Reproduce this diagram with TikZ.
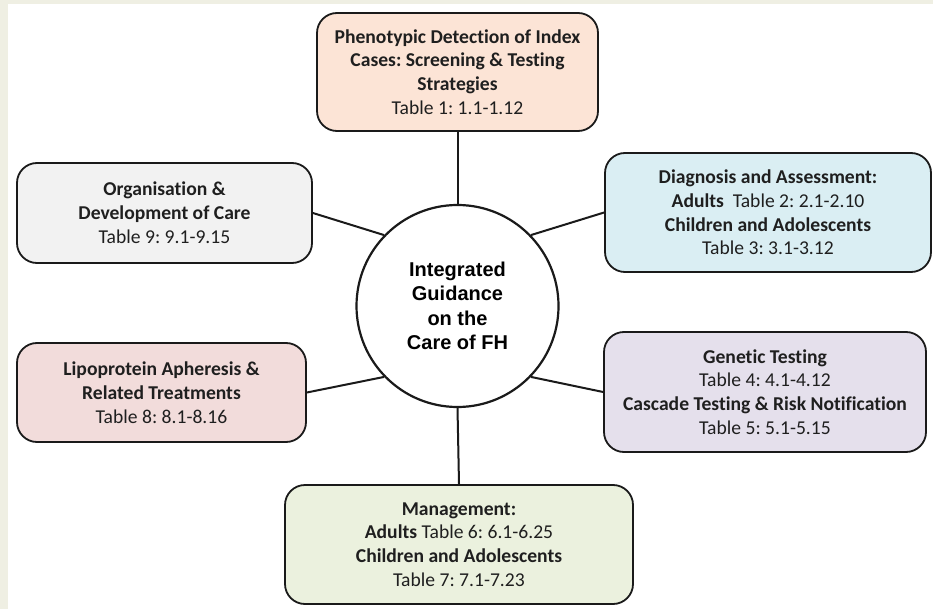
\documentclass[tikz,border=0pt]{standalone}
\usepackage{fontspec}
\setmainfont{Carlito}[Ligatures=NoCommon]
\newfontfamily\arialf{Liberation Sans}
\frenchspacing
\definecolor{bgbeige}{HTML}{EFEFE3}
\definecolor{peach}{HTML}{FCE4D6}
\definecolor{lblue}{HTML}{DAEEF3}
\definecolor{lpurple}{HTML}{E5E0EC}
\definecolor{lgreen}{HTML}{EBF1DE}
\definecolor{lgrey}{HTML}{F2F2F2}
\definecolor{lpink}{HTML}{F2DCDB}
\definecolor{txt}{HTML}{1F1F1F}
\definecolor{edge}{HTML}{1A1A1A}
\tikzset{
  topic/.style={draw=edge, line width=1.8pt, rounded corners=20pt, align=center,
    text=txt, inner sep=0pt, font=\fontsize{19.6}{23.8}\selectfont},
  hub/.style={circle, draw=edge, line width=2.2pt, fill=white, align=center,
    inner sep=0pt, minimum size=202pt, font=\arialf\bfseries\fontsize{20}{24.5}\selectfont},
  link/.style={draw=edge, line width=2pt}
}
\begin{document}
\begin{tikzpicture}[x=1pt,y=-1pt]
\useasboundingbox (0,0) rectangle (933,609);
\fill[bgbeige] (0,0) rectangle (933,609);
\fill[white] (8,4) rectangle (933,609);

\node[hub] (c) at (457.5,306) {Integrated\\Guidance\\on the\\Care of FH};

\node[topic, fill=peach, minimum width=281pt, minimum height=118pt] (pheno) at (457.5,72)
  {\textbf{Phenotypic Detection of Index}\\\textbf{Cases: Screening \& Testing}\\\textbf{Strategies}\\Table 1: 1.1-1.12};

\node[topic, fill=lblue, minimum width=326pt, minimum height=119pt] (diag) at (768,212.5)
  {\textbf{Diagnosis and Assessment:}\\\textbf{Adults}\ \ Table 2: 2.1-2.10\\\textbf{Children and Adolescents}\\Table 3: 3.1-3.12};

\node[topic, fill=lpurple, minimum width=322pt, minimum height=120pt] (gen) at (765,392)
  {\textbf{Genetic Testing}\\Table 4: 4.1-4.12\\\textbf{Cascade Testing \& Risk Notification}\\Table 5: 5.1-5.15};

\node[topic, fill=lgreen, minimum width=348pt, minimum height=119pt] (mgmt) at (459,544.5)
  {\textbf{Management:}\\\textbf{Adults} Table 6: 6.1-6.25\\\textbf{Children and Adolescents}\\Table 7: 7.1-7.23};

\node[topic, fill=lgrey, minimum width=295pt, minimum height=100pt] (org) at (164.5,213)
  {\textbf{Organisation \&}\\\textbf{Development of Care}\\Table 9: 9.1-9.15};

\node[topic, fill=lpink, minimum width=289pt, minimum height=99pt] (lip) at (161.5,392.5)
  {\textbf{Lipoprotein Apheresis \&}\\\textbf{Related Treatments}\\Table 8: 8.1-8.16};

\draw[link] (c.north) -- (pheno.south);
\draw[link] (c.south) -- (mgmt.north);
\draw[link] (c.44) -- (diag.west);
\draw[link] (c.136) -- (org.east);
\draw[link] (c.224) -- (lip.east);
\draw[link] (c.316) -- (gen.west);
\end{tikzpicture}
\end{document}
